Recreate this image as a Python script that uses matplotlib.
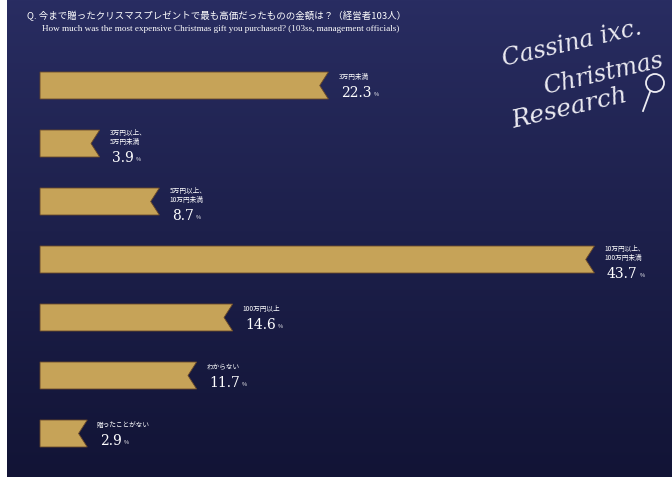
import numpy as np
import matplotlib.pyplot as plt
from matplotlib.patches import Polygon, Circle
import matplotlib.lines as mlines

plt.rcParams['font.family'] = ['Noto Sans CJK JP', 'DejaVu Sans']

# data
categories = ["3万円未満", "3万円以上、\n5万円未満", "5万円以上、\n10万円未満",
              "10万円以上、\n100万円未満", "100万円以上", "わからない", "贈ったことがない"]
values = [22.3, 3.9, 8.7, 43.7, 14.6, 11.7, 2.9]

title_jp = "Q. 今まで贈ったクリスマスプレゼントで最も高価だったものの金額は？（経営者103人）"
title_en = "How much was the most expensive Christmas gift you purchased? (103ss, management officials)"

fig = plt.figure(figsize=(6.72, 4.79), dpi=100)
fig.patch.set_facecolor("white")

# navy background panel
bg = fig.add_axes([7 / 672, 2 / 479, 665 / 672, 477 / 479])
grad = np.linspace(0, 1, 256).reshape(-1, 1)
top = np.array([0x29, 0x2d, 0x62]) / 255
bot = np.array([0x12, 0x14, 0x36]) / 255
img = top + (bot - top) * grad[:, :, None] ** 0.9
bg.imshow(img, aspect="auto", extent=[0, 1, 0, 1], origin="upper")
bg.set_axis_off()

# chart axes: bars
ax = fig.add_axes([0, 0, 1, 1], facecolor="none")
ax.set_xlim(-4.12, 49.94)
ax.set_ylim(479, 0)
ax.set_axis_off()

gold = "#c6a358"
bar_h = 27
notch = 0.7
y_pos = [72 + 58 * i for i in range(len(values))]
start = -0.9

for i, (cat, v) in enumerate(zip(categories, values)):
    y0 = y_pos[i]
    y1 = y0 + bar_h
    ym = (y0 + y1) / 2
    pts = [(start, y0), (v, y0), (v - notch, ym), (v, y1), (start, y1)]
    ax.add_patch(Polygon(pts, closed=True, facecolor=gold, edgecolor="#6b4a2a",
                         linewidth=0.6))
    tx = v + 0.8
    multi = "\n" in cat
    ax.text(tx, y0 - 1 if multi else y0 + 1, cat, fontsize=4.8, color="white",
            va="top", ha="left", linespacing=1.2)
    tc = y0 + (28 if multi else 21)
    t = ax.text(tx + 0.2, tc, f"{v:.1f}", fontsize=10, color="white",
                family="DejaVu Serif", va="center", ha="left")
    ax.annotate("%", xy=(1, 0.22), xycoords=t, xytext=(1.5, 0), textcoords="offset points",
                fontsize=4, color="white", va="bottom", ha="left")

# titles
fig.text(27 / 672, 1 - 16 / 479, title_jp, fontsize=6.8, color="white",
         va="center", ha="left")
fig.text(42 / 672, 1 - 29 / 479, title_en, fontsize=6.6, color="white",
         family="Liberation Serif", va="center", ha="left")

# logo
logo_kw = dict(color="#ecebf2", family="DejaVu Serif", style="italic",
               rotation=13, ha="center", va="center")
fig.text(572 / 672, 1 - 44 / 479, "Cassina ixc.", fontsize=17, **logo_kw)
fig.text(603 / 672, 1 - 74 / 479, "Christmas", fontsize=17, **logo_kw)
fig.text(570 / 672, 1 - 108 / 479, "Research", fontsize=18, **logo_kw)
ax2 = fig.add_axes([0, 0, 1, 1], facecolor="none")
ax2.set_xlim(0, 672)
ax2.set_ylim(479, 0)
ax2.set_axis_off()
ax2.add_patch(Circle((655, 83), 9, fill=False, edgecolor="#ecebf2", linewidth=1.3))
ax2.add_line(mlines.Line2D([650, 643], [92, 111], color="#ecebf2", linewidth=1.3))

fig.savefig("out.png", dpi=100)
